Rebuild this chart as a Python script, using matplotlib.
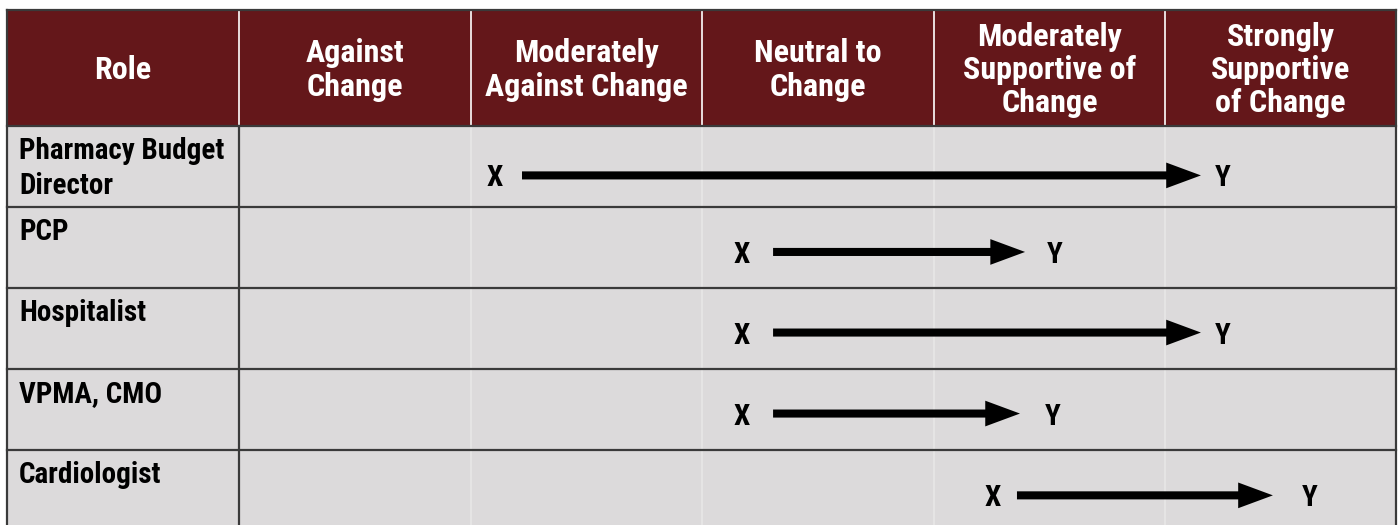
import matplotlib
matplotlib.use("Agg")
import matplotlib.pyplot as plt
from matplotlib.patches import Rectangle, FancyArrowPatch
from matplotlib import font_manager

# ---------------- data ----------------
columns = ["Role", "Against\nChange", "Moderately\nAgainst Change", "Neutral to\nChange",
           "Moderately\nSupportive of\nChange", "Strongly\nSupportive\nof Change"]
roles = ["Pharmacy Budget\nDirector", "PCP", "Hospitalist", "VPMA, CMO", "Cardiologist"]
# positions on the attitude scale, in column units (0 = left edge of "Against Change")
x_label_pos = [1.106, 2.174, 2.174, 2.174, 3.258]
y_label_pos = [4.252, 3.526, 4.252, 3.518, 4.628]
arrow_start = [1.223, 2.308, 2.308, 2.308, 3.362]
arrow_end = [4.157, 3.397, 4.157, 3.375, 4.468]
start_label = "X"
end_label = "Y"

# ---------------- style ----------------
W, H = 1398, 525
HEADER_BG = "#64171A"
BODY_BG = "#DCDADB"
LINE_DARK = "#3A3A3A"
FAINT = "#E8E7E7"
col_edges = [7, 239, 471, 702, 934, 1165, 1396]
header_top, header_bot = 10, 126
row_h = 81
arrow_dy = [0.11, 0.055, 0.05, 0.05, 0.06]

avail = {f.name for f in font_manager.fontManager.ttflist}
fam = [f for f in ["Roboto Condensed", "Liberation Sans Narrow", "DejaVu Sans"] if f in avail]
plt.rcParams["font.family"] = fam

fig = plt.figure(figsize=(W / 100, H / 100), dpi=100)
fig.patch.set_facecolor("white")

bg = fig.add_axes([0, 0, 1, 1])
bg.set_xlim(0, W)
bg.set_ylim(H, 0)
bg.axis("off")

# header & body backgrounds
bg.add_patch(Rectangle((col_edges[0], header_top), col_edges[-1] - col_edges[0],
                       header_bot - header_top, facecolor=HEADER_BG, edgecolor="none"))
bg.add_patch(Rectangle((col_edges[0], header_bot), col_edges[-1] - col_edges[0],
                       H + 20 - header_bot, facecolor=BODY_BG, edgecolor="none"))

# header separators (white)
for x in col_edges[1:-1]:
    bg.plot([x, x], [header_top, header_bot], color="white", lw=1.2)
# faint vertical separators in body
for x in col_edges[2:-1]:
    bg.plot([x, x], [header_bot, H + 10], color=FAINT, lw=1.2)
# role column separator
bg.plot([col_edges[1], col_edges[1]], [header_bot, H + 10], color=LINE_DARK, lw=1.6)
# horizontal row separators
for i in range(len(roles)):
    y = header_bot + i * row_h
    bg.plot([col_edges[0], col_edges[-1]], [y, y], color=LINE_DARK, lw=1.6)
# outer border
bg.plot([col_edges[0], col_edges[-1]], [header_top, header_top], color=LINE_DARK, lw=1.6)
bg.plot([col_edges[0], col_edges[0]], [header_top, H + 10], color=LINE_DARK, lw=1.6)
bg.plot([col_edges[-1], col_edges[-1]], [header_top, H + 10], color=LINE_DARK, lw=1.6)

# header texts
for i, name in enumerate(columns):
    cx = (col_edges[i] + col_edges[i + 1]) / 2
    bg.text(cx, (header_top + header_bot) / 2 + 2, name, ha="center", va="center",
            multialignment="center", color="white", fontsize=23, fontweight="bold",
            linespacing=1.14)

# role labels
for i, r in enumerate(roles):
    bg.text(19, header_bot + i * row_h + 11, r, ha="left", va="top", color="black",
            fontsize=21, fontweight="bold", linespacing=1.33)

# body axes in scale units
ax = fig.add_axes([col_edges[1] / W, (H - (header_bot + 5 * row_h)) / H,
                   (col_edges[-1] - col_edges[1]) / W, 5 * row_h / H])
ax.set_xlim(0, 5)
ax.set_ylim(5, 0)
ax.axis("off")
ax.patch.set_visible(False)

for i in range(len(roles)):
    yc = i + 0.5 + arrow_dy[i]
    arr = FancyArrowPatch((arrow_start[i], yc), (arrow_end[i], yc),
                          arrowstyle="simple,head_length=25,head_width=18.5,tail_width=5.8",
                          mutation_scale=1, shrinkA=0, shrinkB=0,
                          facecolor="black", edgecolor="none")
    ax.add_patch(arr)
    ax.text(x_label_pos[i], yc, start_label, ha="center", va="center_baseline",
            fontsize=21, fontweight="bold", color="black")
    ax.text(y_label_pos[i], yc, end_label, ha="center", va="center_baseline",
            fontsize=21, fontweight="bold", color="black")

fig.savefig("out.png", dpi=100)
